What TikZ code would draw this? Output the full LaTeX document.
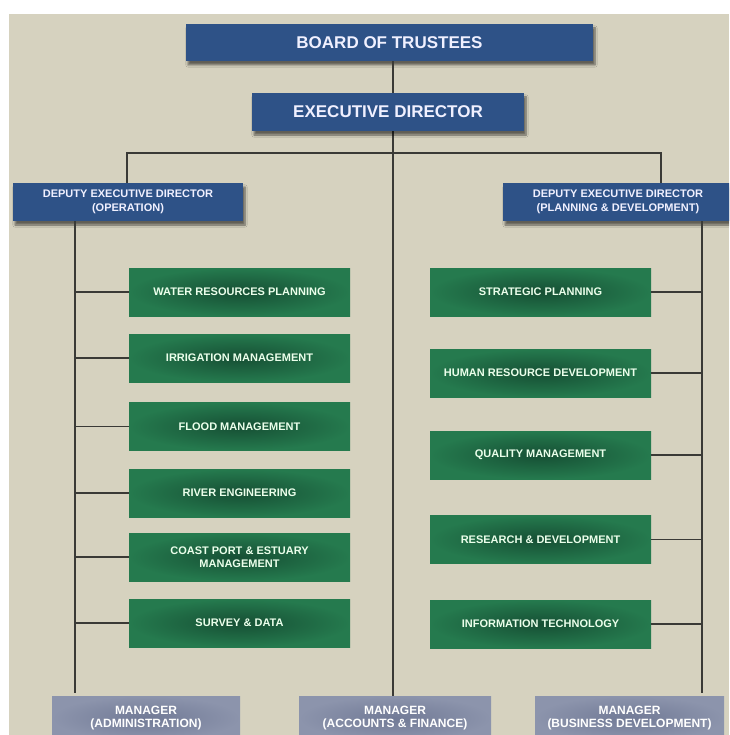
\documentclass[tikz,border=0pt]{standalone}
\usepackage{fontspec}
\setmainfont{Liberation Sans}
\usetikzlibrary{shadows,shadows.blur}
\definecolor{paper}{HTML}{D6D2BF}
\definecolor{navy}{HTML}{2E5287}
\definecolor{deepgreen}{HTML}{164F34}
\definecolor{edgegreen}{HTML}{257A4E}
\definecolor{slate}{HTML}{717A96}
\definecolor{slateedge}{HTML}{8C94AC}
\definecolor{wire}{HTML}{3A3A36}
\begin{document}
\begin{tikzpicture}[x=1pt,y=-1pt,
  bluebox/.style={rectangle,fill=navy,text=white!94!blue,font=\bfseries,
    align=center,inner sep=0pt,
    blur shadow={shadow xshift=2pt,shadow yshift=-4pt,shadow opacity=55,shadow blur steps=6}},
  greenbox/.style={rectangle,inner color=deepgreen,outer color=edgegreen,
    text=white!92!green,font=\bfseries\fontsize{11}{13.5}\selectfont,align=center,
    minimum width=221pt,minimum height=48pt,inner sep=0pt},
  mgrbox/.style={rectangle,inner color=slate,outer color=slateedge,
    text=white,font=\bfseries\fontsize{12}{12.5}\selectfont,align=center,
    minimum height=44pt,inner sep=0pt},
  wireline/.style={draw=wire,line width=1.3pt}]
\useasboundingbox (0,0) rectangle (729,735);
\clip (0,0) rectangle (729,735);
\fill[white] (0,0) rectangle (729,735);
\fill[paper] (9,14) rectangle (729,735);

% routing points
\coordinate (spine) at (393,0);
\coordinate (busL) at (127,153);
\coordinate (busR) at (661,153);
\coordinate (endL) at (75,693);
\coordinate (endR) at (702,693);

% upper levels
\node[bluebox,minimum width=407pt,minimum height=37pt,font=\bfseries\fontsize{17}{20}\selectfont]
  (board) at (389.5,42.5) {BOARD OF TRUSTEES};
\node[mgrbox,minimum width=192pt] (acc) at (395,718) {MANAGER\\(ACCOUNTS \& FINANCE)};
\draw[wireline] (board.south -| spine) -- (acc.north -| spine);
\node[bluebox,minimum width=272pt,minimum height=38pt,font=\bfseries\fontsize{17}{20}\selectfont]
  (exec) at (388,112) {EXECUTIVE DIRECTOR};
\node[bluebox,minimum width=230pt,minimum height=38pt,font=\bfseries\fontsize{11}{14}\selectfont]
  (depL) at (128,202) {DEPUTY EXECUTIVE DIRECTOR\\(OPERATION)};
\node[bluebox,minimum width=230pt,minimum height=38pt,font=\bfseries\fontsize{11}{14}\selectfont]
  (depR) at (618,202) {DEPUTY EXECUTIVE DIRECTOR\\(PLANNING \& DEVELOPMENT)};
\draw[wireline] (depL.north -| busL) -- (busL) -- (busR) -- (depR.north -| busR);

% operation units
\node[greenbox] (wrp) at (239.5,292) {WATER RESOURCES PLANNING};
\node[greenbox] (irr) at (239.5,358) {IRRIGATION MANAGEMENT};
\node[greenbox] (fld) at (239.5,426.5) {FLOOD MANAGEMENT};
\node[greenbox] (riv) at (239.5,493) {RIVER ENGINEERING};
\node[greenbox] (cst) at (239.5,557) {COAST PORT \& ESTUARY\\MANAGEMENT};
\node[greenbox] (srv) at (239.5,623) {SURVEY \& DATA};

% planning units
\node[greenbox] (stp) at (540.5,292) {STRATEGIC PLANNING};
\node[greenbox] (hrd) at (540.5,373) {HUMAN RESOURCE DEVELOPMENT};
\node[greenbox] (qm) at (540.5,455) {QUALITY MANAGEMENT};
\node[greenbox] (rnd) at (540.5,539.5) {RESEARCH \& DEVELOPMENT};
\node[greenbox] (it) at (540.5,624) {INFORMATION TECHNOLOGY};

% managers
\node[mgrbox,minimum width=188pt] (adm) at (146,718) {MANAGER\\(ADMINISTRATION)};
\node[mgrbox,minimum width=189pt] (bus) at (629.5,718) {MANAGER\\(BUSINESS DEVELOPMENT)};

% left trunk and branches
\draw[wireline] (depL.south -| endL) -- (endL);
\foreach \u in {wrp,irr,fld,riv,cst,srv}
  \draw[wireline] (\u.west -| endL) -- (\u.west);
% right trunk and branches
\draw[wireline] (depR.south -| endR) -- (endR);
\foreach \u in {stp,hrd,qm,rnd,it}
  \draw[wireline] (\u.east) -- (\u.east -| endR);
\end{tikzpicture}
\end{document}
